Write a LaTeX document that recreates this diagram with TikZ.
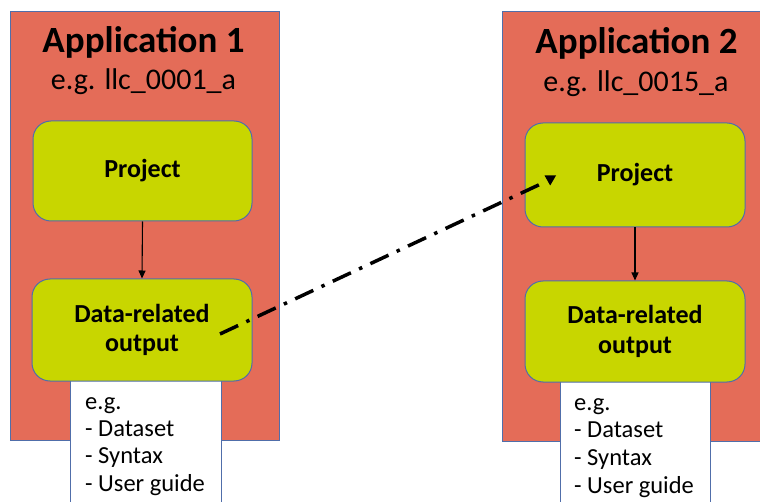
\documentclass[tikz,border=0pt]{standalone}
\usepackage{fontspec}
\setmainfont{Carlito}
\usetikzlibrary{arrows.meta}
\definecolor{appred}{RGB}{228,108,88}
\definecolor{edgeblue}{RGB}{80,110,170}
\definecolor{boxgreen}{RGB}{200,214,0}
\tikzset{
  appbox/.style={draw=edgeblue, line width=1pt, fill=appred, inner sep=0pt},
  greenbox/.style={draw=edgeblue, line width=1pt, fill=boxgreen, rounded corners=18pt, inner sep=0pt, align=center, font=\fontsize{26}{29.5}\selectfont\bfseries},
  notebox/.style={draw=edgeblue, line width=1pt, fill=white, inner sep=0pt},
  notetext/.style={anchor=base west, inner sep=0pt, font=\fontsize{24.5}{28}\selectfont},
  title/.style={anchor=base, font=\fontsize{37}{40}\selectfont\bfseries, inner sep=0pt},
  subtitle/.style={anchor=base, font=\fontsize{30}{32}\selectfont, inner sep=0pt},
  flow/.style={-{Triangle[length=8pt,width=7pt]}, line width=1.1pt},
  link/.style={line width=3.5pt, dash pattern=on 20pt off 9pt on 3.5pt off 9pt}
}
\begin{document}
\begin{tikzpicture}[x=1pt,y=-1pt]
\useasboundingbox (0,0) rectangle (760,502);
\fill[white] (0,0) rectangle (760,502);
% outer application boxes
\node[appbox, minimum width=269pt, minimum height=428pt] (app1) at (144.5,226) {};
\node[appbox, minimum width=260pt, minimum height=429pt] (app2) at (632,226.5) {};
% note boxes
\node[notebox, minimum width=151pt, minimum height=130pt, anchor=north] (note1) at (145.5,378) {};
\node[notebox, minimum width=150pt, minimum height=130pt, anchor=north] (note2) at (635,379) {};
% titles
\node[title] (t1) at (143.5,53) {Application 1};
\node[subtitle] (s1) at (143.5,90) {e.g. llc\_0001\_a};
\node[title] (t2) at (636.5,53.5) {Application 2};
\node[subtitle] (s2) at (636,92) {e.g. llc\_0015\_a};
% green boxes
\node[greenbox, minimum width=219pt, minimum height=100pt] (p1) at (142.5,171) {Project};
\node[greenbox, minimum width=220pt, minimum height=102pt] (d1) at (142,330) {Data-related\\output};
\node[greenbox, minimum width=220pt, minimum height=104pt] (p2) at (635,175) {Project};
\node[greenbox, minimum width=220pt, minimum height=101pt] (d2) at (635,331.5) {Data-related\\output};
% note texts
\node[notetext] (n1a) at (85,409) {e.g.};
\node[notetext] (n1b) at (85,436) {- Dataset};
\node[notetext] (n1c) at (85,463.5) {- Syntax};
\node[notetext] (n1d) at (85,491) {- User guide};
\node[notetext] (n2a) at (574,410) {e.g.};
\node[notetext] (n2b) at (574,437.5) {- Dataset};
\node[notetext] (n2c) at (574,465) {- Syntax};
\node[notetext] (n2d) at (574,493) {- User guide};
% arrows
\draw[flow] (p1.south) -- (d1.north);
\draw[flow] (p2.south) -- (d2.north);
% dash-dot link
\coordinate (ls) at (220,334);
\coordinate (le) at (545,182);
\draw[link] (ls) -- (le);
\fill (544.5,175.5) -- (556,175.5) -- (550.2,185.5) -- cycle;
\end{tikzpicture}
\end{document}
